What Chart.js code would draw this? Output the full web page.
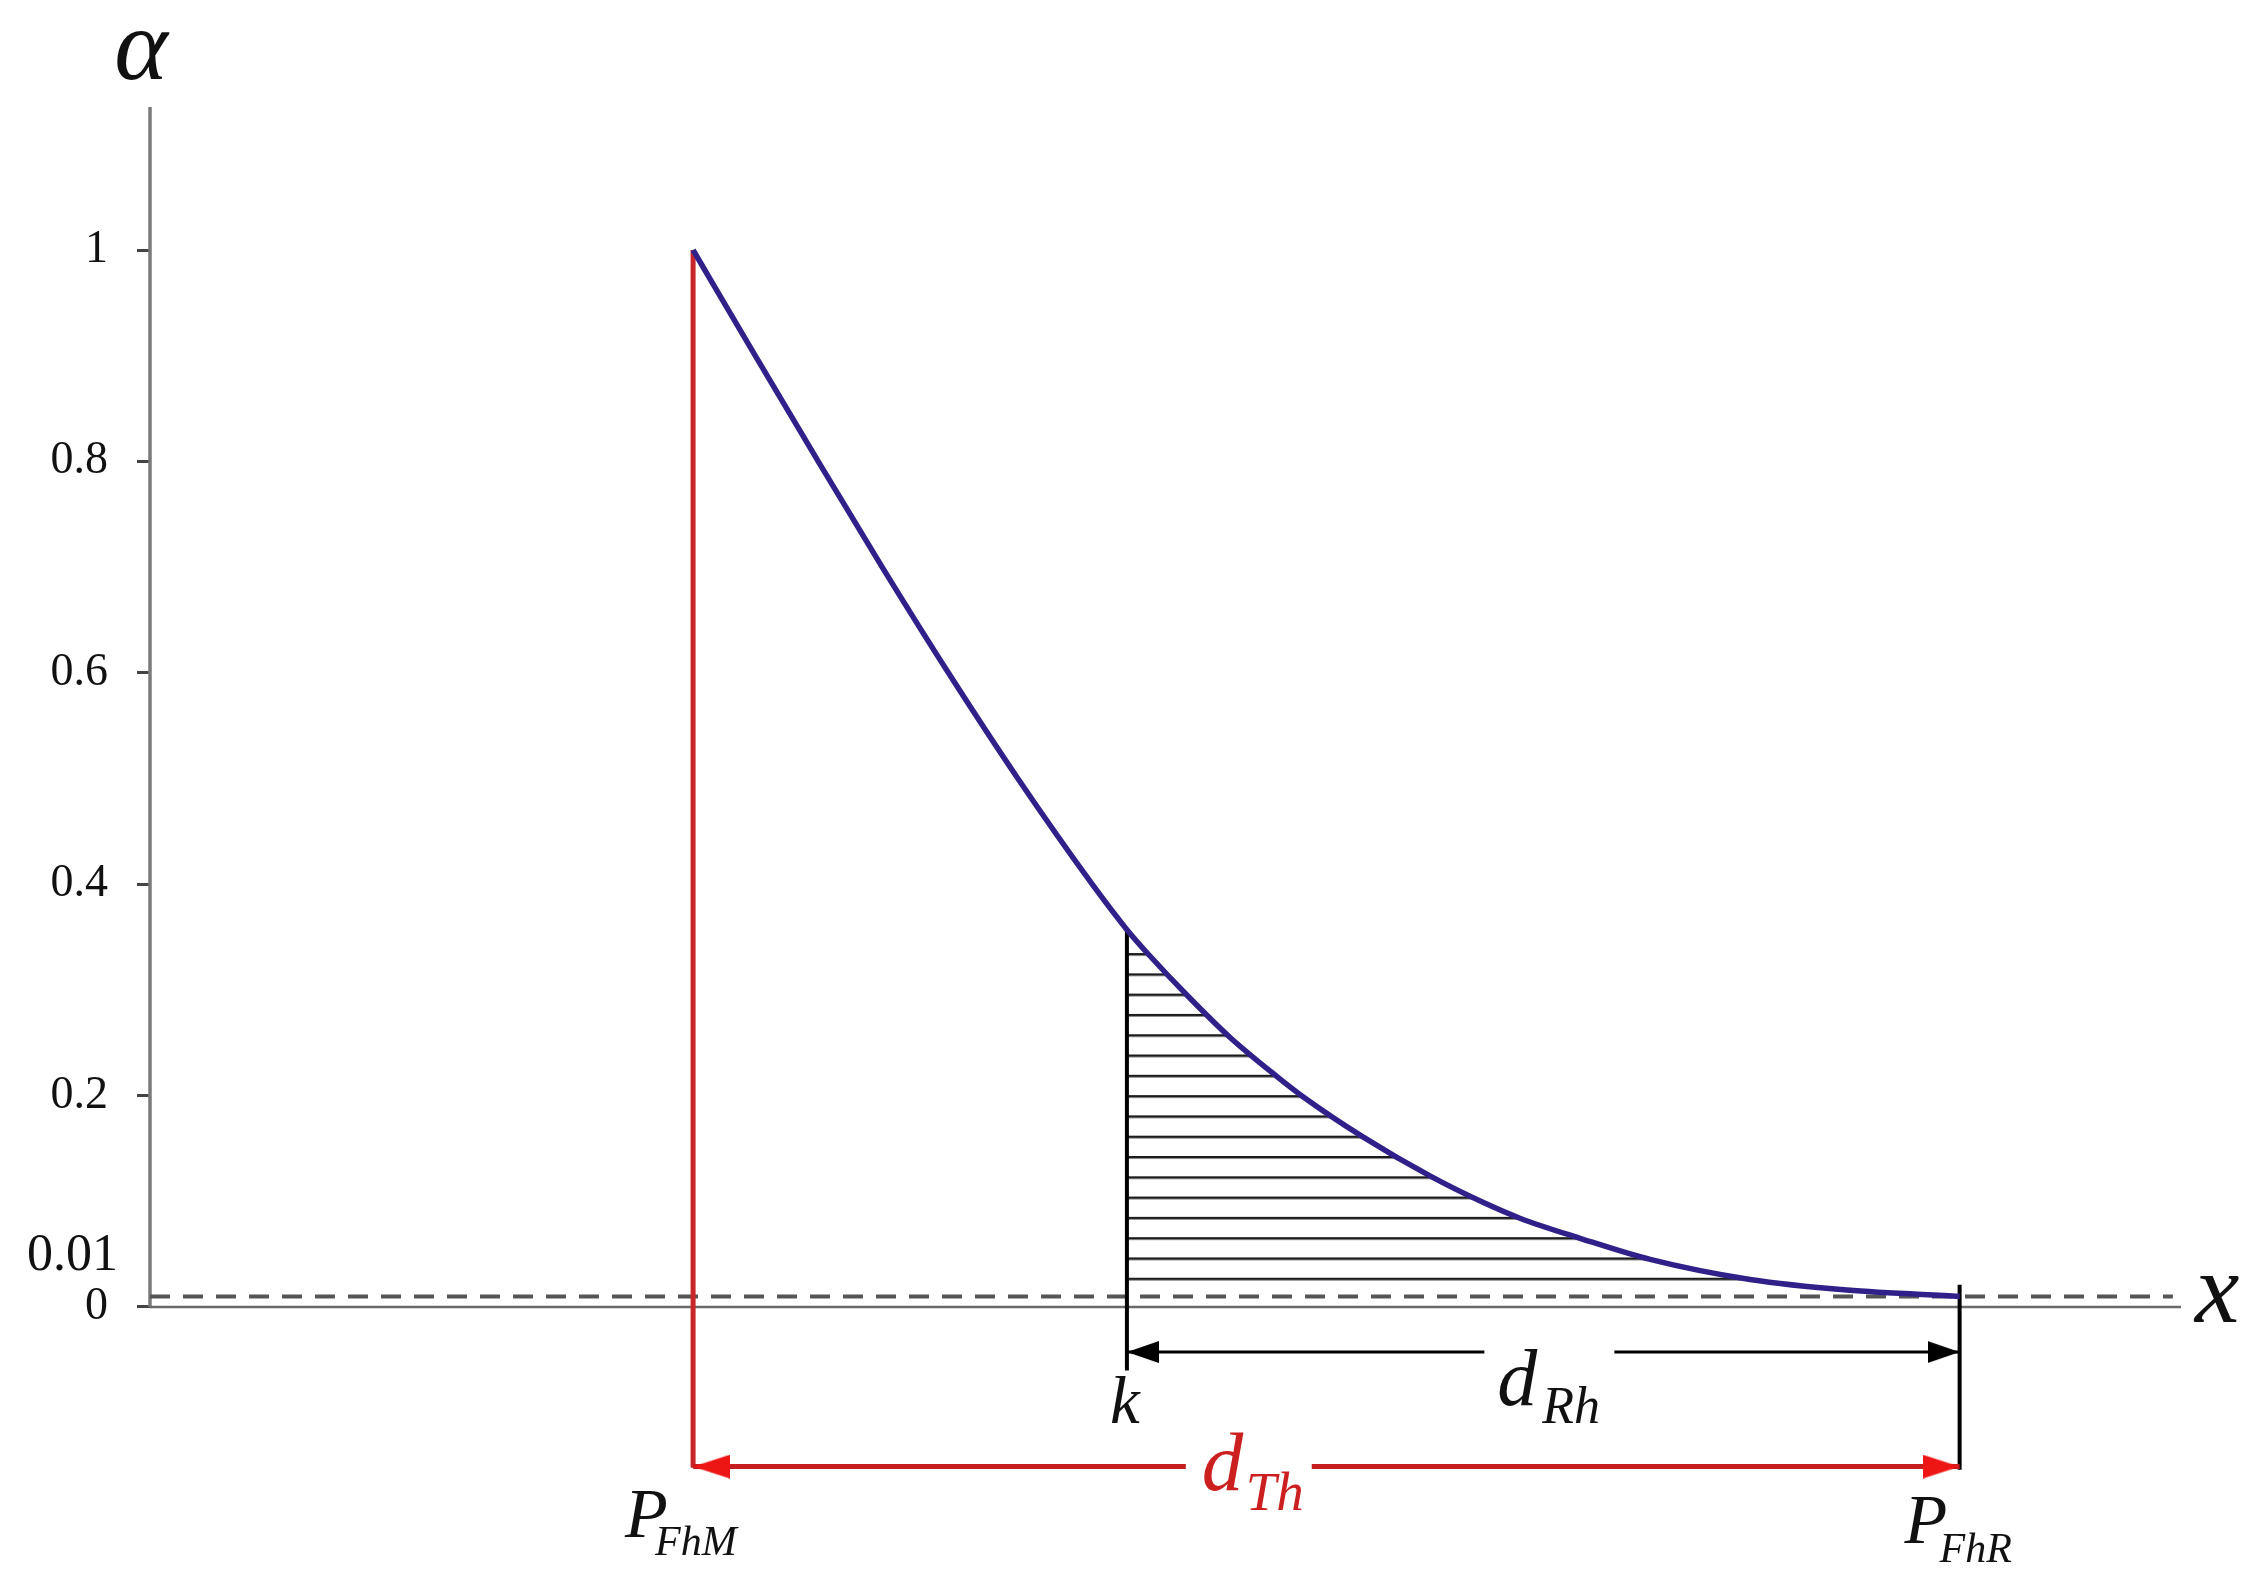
<!DOCTYPE html>
<html>
<head>
<meta charset="utf-8">
<script src="https://cdn.jsdelivr.net/npm/chart.js@4.4.1/dist/chart.umd.min.js"></script>
<style>
  html, body { margin: 0; padding: 0; background: #fff; }
  canvas { display: block; }
</style>
</head>
<body>
<canvas id="myChart" width="2265" height="1593"></canvas>
<script>
// alpha(x) curve (x in arbitrary units 0..100)
const curveX = [26.74, 29.8, 32.9, 36.05, 39.31, 42.73, 46.39, 48.1, 49.19, 51.11, 53.18, 55.49, 56.77, 59.72, 63.02, 65.63, 67.45, 70.41, 73.86, 78.78, 83.55, 89.1];
const curveY = [1.0, 0.9, 0.8, 0.7, 0.6, 0.5, 0.4, 0.357, 0.333, 0.294, 0.255, 0.218, 0.199, 0.161, 0.124, 0.099, 0.084, 0.065, 0.045, 0.026, 0.016, 0.01];

// marked positions on x
const pFhM = 26.74;
const kX = 48.1;
const pFhR = 89.1;
const threshold = 0.01;

// y axis
const yTicks = [0, 0.2, 0.4, 0.6, 0.8, 1];
const yTickLabels = ['0', '0.2', '0.4', '0.6', '0.8', '1'];
const yMin = -0.2706;
const yMax = 1.1353;

// dimension arrows under the axis
const dRhY = -0.0426;
const dThY = -0.151;
const dRhGap = [65.7, 72.1];
const dThGap = [51.0, 57.2];
const kBottom = -0.06;
const pFhRTop = 0.021;
const pFhRBottom = -0.154;
const pFhMBottom = -0.152;

// hatching
const hatchBottom = 0.0265;
const hatchStep = 0.0192;

const serif = "'Liberation Serif', 'Times New Roman', serif";

function pts(xs, ys) {
    return xs.map((v, i) => ({x: v, y: ys[i]}));
}

function makeArrow(len, wid, color, dir) {
    const c = document.createElement('canvas');
    c.width = len * 2;
    c.height = wid;
    const g = c.getContext('2d');
    g.fillStyle = color;
    g.beginPath();
    if (dir < 0) {
        g.moveTo(len, wid / 2); g.lineTo(2 * len, 0); g.lineTo(2 * len, wid);
    } else {
        g.moveTo(len, wid / 2); g.lineTo(0, 0); g.lineTo(0, wid);
    }
    g.closePath();
    g.fill();
    return c;
}

const redLeft = makeArrow(37, 24, '#ee1515', -1);
const redRight = makeArrow(37, 24, '#ee1515', 1);
const blackLeft = makeArrow(32, 22, '#000', -1);
const blackRight = makeArrow(32, 22, '#000', 1);

function hatchPattern(ctx) {
    const chart = ctx.chart;
    if (!chart.chartArea || !chart.scales.y) return 'rgba(0,0,0,0)';
    const y = chart.scales.y;
    const y0 = y.getPixelForValue(hatchBottom);
    const step = y0 - y.getPixelForValue(hatchBottom + hatchStep);
    const S = Math.round(step);
    const c = document.createElement('canvas');
    c.width = 8;
    c.height = S;
    const g = c.getContext('2d');
    g.fillStyle = '#1c1c1c';
    g.fillRect(0, 0, 8, 2.5);
    const pat = chart.ctx.createPattern(c, 'repeat');
    pat.setTransform(new DOMMatrix([1, 0, 0, step / S, 0, y0 - 1.25]));
    return pat;
}

function arrowData(x0, x1, gap, yv) {
    return [
        {x: x0, y: yv}, {x: gap[0], y: yv},
        {x: (gap[0] + gap[1]) / 2, y: null},
        {x: gap[1], y: yv}, {x: x1, y: yv}
    ];
}

const hatchX = curveX.filter(v => v >= kX);
const hatchY = curveY.slice(curveX.length - hatchX.length);
const kAlpha = curveY[curveX.indexOf(kX)];

function drawSub(ctx, main, sub, left, base, mainSize, subLeft, subBase, subSize, color) {
    ctx.fillStyle = color;
    ctx.font = `italic ${mainSize}px ${serif}`;
    ctx.fillText(main, left, base);
    ctx.font = `italic ${subSize}px ${serif}`;
    ctx.fillText(sub, subLeft, subBase);
}

const labelPlugin = {
    id: 'labels',
    afterDraw(chart) {
        const {ctx} = chart;
        const x = chart.scales.x, y = chart.scales.y;
        ctx.save();
        ctx.textBaseline = 'alphabetic';

        // extra 0.01 tick label
        ctx.textAlign = 'right';
        ctx.fillStyle = '#111';
        ctx.font = `52px ${serif}`;
        ctx.fillText('0.01', y.right - 32, y.getPixelForValue(threshold) - 26);

        // axis names
        ctx.textAlign = 'center';
        ctx.font = `italic 102px ${serif}`;
        ctx.fillText('\u03B1', x.getPixelForValue(0) - 9, chart.chartArea.top - 28);
        ctx.textAlign = 'left';
        ctx.font = `italic 100px ${serif}`;
        ctx.fillText('x', x.getPixelForValue(100) + 14, y.getPixelForValue(0) + 15);

        // k
        ctx.textAlign = 'center';
        ctx.font = `italic 67px ${serif}`;
        ctx.fillText('k', x.getPixelForValue(kX) - 2, y.getPixelForValue(0) + 116);

        ctx.textAlign = 'left';
        const y0 = y.getPixelForValue(0);
        const xm = x.getPixelForValue(pFhM), xr = x.getPixelForValue(pFhR);
        drawSub(ctx, 'P', 'FhM', xm - 68, y0 + 230, 70, xm - 38, y0 + 248, 42, '#111');
        drawSub(ctx, 'P', 'FhR', xr - 55, y0 + 236, 70, xr - 20, y0 + 255, 42, '#111');

        const xth = x.getPixelForValue((dThGap[0] + dThGap[1]) / 2);
        drawSub(ctx, 'd', 'Th', xth - 47, y0 + 183, 83, xth - 3, y0 + 203, 55, '#cc1f1f');
        const xrh = x.getPixelForValue((dRhGap[0] + dRhGap[1]) / 2);
        drawSub(ctx, 'd', 'Rh', xrh - 52, y0 + 98, 80, xrh - 7, y0 + 116, 52, '#111');
        ctx.restore();
    }
};

const endArrow = (left, right, r) => ({
    pointRadius: ctx => (ctx.dataIndex === 0 || ctx.dataIndex === 4) ? r : 0,
    pointStyle: ctx => ctx.dataIndex === 0 ? left : right,
});

const myChart = document.getElementById('myChart').getContext('2d');
const mainChart = new Chart(myChart, {
    type: 'line',
    data: {
        datasets: [
            {   // curve
                data: pts(curveX, curveY),
                borderColor: '#2f2189', borderWidth: 5.5,
                cubicInterpolationMode: 'monotone',
                pointRadius: 0, order: 1, clip: false
            },
            {   // d_Rh arrow
                data: arrowData(kX, pFhR, dRhGap, dRhY),
                borderColor: '#000', borderWidth: 3,
                spanGaps: false, order: 2, clip: false,
                ...endArrow(blackLeft, blackRight, 5)
            },
            {   // d_Th arrow
                data: arrowData(pFhM, pFhR, dThGap, dThY),
                borderColor: '#c41e1e', borderWidth: 5,
                spanGaps: false, order: 2, clip: false,
                ...endArrow(redLeft, redRight, 5)
            },
            {   // red vertical at P_FhM
                data: [{x: pFhM, y: 1}, {x: pFhM, y: pFhMBottom}],
                borderColor: '#c9262b', borderWidth: 5,
                pointRadius: 0, order: 3, clip: false
            },
            {   // k vertical
                data: [{x: kX, y: kAlpha}, {x: kX, y: kBottom}],
                borderColor: '#000', borderWidth: 4,
                pointRadius: 0, order: 3, clip: false
            },
            {   // P_FhR vertical
                data: [{x: pFhR, y: pFhRTop}, {x: pFhR, y: pFhRBottom}],
                borderColor: '#000', borderWidth: 4,
                pointRadius: 0, order: 3, clip: false
            },
            {   // 0.01 threshold
                data: [{x: 0, y: threshold}, {x: 99.6, y: threshold}],
                borderColor: '#555', borderWidth: 4, borderDash: [20, 13],
                pointRadius: 0, order: 5, clip: false
            },
            {   // x axis line
                data: [{x: 0, y: 0}, {x: 100, y: 0}],
                borderColor: '#6a6a6a', borderWidth: 2.5,
                pointRadius: 0, order: 6, clip: false
            },
            {   // y axis line
                data: [{x: 0, y: 0}, {x: 0, y: yMax}],
                borderColor: '#7a7a7a', borderWidth: 3.5,
                pointRadius: 0, order: 6, clip: false
            },
            {   // hatched area under the curve from k
                data: pts(hatchX, hatchY),
                borderWidth: 0, borderColor: 'rgba(0,0,0,0)',
                cubicInterpolationMode: 'monotone',
                backgroundColor: hatchPattern,
                fill: {value: threshold},
                pointRadius: 0, order: 10
            }
        ]
    },
    options: {
        responsive: false,
        devicePixelRatio: 1,
        animation: false,
        layout: { autoPadding: false, padding: { top: 107, right: 84, bottom: 0, left: 0 } },
        plugins: { legend: { display: false }, tooltip: { enabled: false } },
        scales: {
            x: { type: 'linear', min: 0, max: 100, display: false },
            y: {
                type: 'linear', min: yMin, max: yMax,
                afterFit: s => { s.width = 150; s.paddingTop = 0; s.paddingBottom = 0; },
                afterBuildTicks: s => { s.ticks = yTicks.map(v => ({value: v})); },
                grid: { drawOnChartArea: false, drawTicks: true, tickLength: 13, tickColor: '#444', tickWidth: 3 },
                border: { display: false },
                ticks: {
                    padding: 29, color: '#111',
                    font: { family: serif, size: 46 },
                    callback: (v, i) => yTickLabels[i]
                }
            }
        }
    },
    plugins: [labelPlugin]
});
</script>
</body>
</html>
